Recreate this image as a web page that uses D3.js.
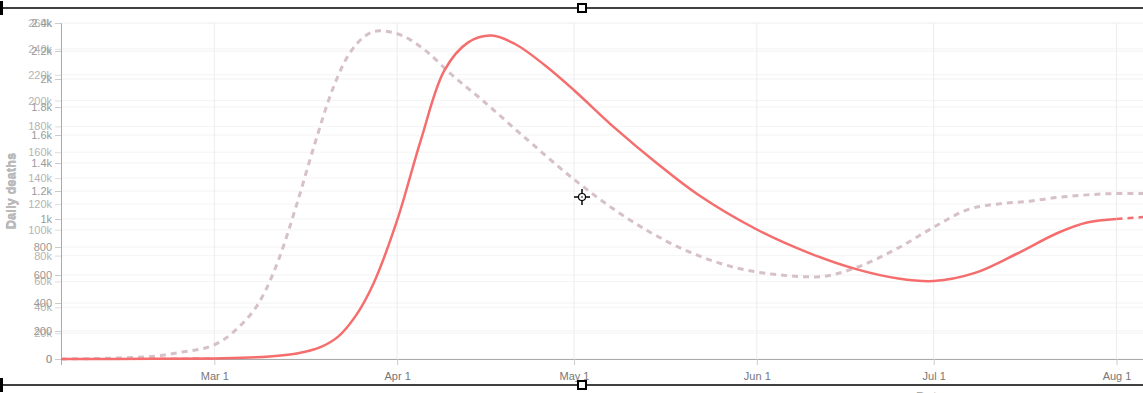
<!DOCTYPE html>
<html>
<head>
<meta charset="utf-8">
<script src="https://cdn.jsdelivr.net/npm/d3@7"></script>
<style>
  html, body { margin: 0; padding: 0; background: #fff; overflow: hidden; }
  svg { display: block; font-family: "Liberation Sans", Arial, sans-serif; }
</style>
</head>
<body>
<svg id="chart" width="1143" height="393"></svg>
<script>
// daily deaths (left axis), observed
const deathDates = ["2020-02-04","2020-02-20","2020-03-01","2020-03-08","2020-03-15","2020-03-19","2020-03-22","2020-03-25","2020-03-28","2020-04-01","2020-04-05","2020-04-09","2020-04-13","2020-04-17","2020-04-21","2020-04-26","2020-05-01","2020-05-08","2020-05-15","2020-05-22","2020-06-01","2020-06-10","2020-06-18","2020-06-25","2020-07-01","2020-07-08","2020-07-15","2020-07-22","2020-07-27","2020-08-01"];
const deathValues = [0,1,4,12,40,85,160,310,540,990,1560,2060,2260,2310,2250,2100,1920,1647,1400,1175,925,755,640,575,557,615,750,900,975,1000];
// projection after last date
const projDates = ["2020-08-01","2020-08-06"];
const projValues = [1000,1015];

// second series (right scale, overlaid)
const infDates = ["2020-02-04","2020-02-18","2020-02-24","2020-03-01","2020-03-05","2020-03-09","2020-03-12","2020-03-15","2020-03-18","2020-03-21","2020-03-24","2020-03-29","2020-04-02","2020-04-06","2020-04-10","2020-04-15","2020-04-22","2020-05-01","2020-05-09","2020-05-19","2020-05-29","2020-06-05","2020-06-11","2020-06-18","2020-06-25","2020-07-01","2020-07-07","2020-07-12","2020-07-17","2020-07-22","2020-07-27","2020-08-01","2020-08-06"];
const infValues = [0,1500,5000,11000,24000,47000,78000,120000,166000,208000,237000,254000,250000,238000,221000,202000,174000,139000,112000,86000,70000,65000,63500,71000,86000,102000,116000,120000,122000,125000,127000,128000,128000];

const xTicks = ["2020-03-01","2020-04-01","2020-05-01","2020-06-01","2020-07-01","2020-08-01"];

const parse = d3.timeParse("%Y-%m-%d");
const svg = d3.select("#chart");
const margin = {left: 61, top: 23, bottom: 34};
const height = 393 - margin.bottom;

const x = d3.scaleTime()
    .domain([parse("2020-02-04"), parse("2020-08-06")])
    .range([margin.left, 1146]);
const y = d3.scaleLinear().domain([0, 2400]).range([height, margin.top]);
const y2 = d3.scaleLinear().domain([0, 260000]).range([height, margin.top]);

// grid
const grid = svg.append("g");
grid.selectAll(".hg").data(y.ticks(12)).enter().append("line")
    .attr("x1", margin.left).attr("x2", 1143)
    .attr("y1", d => y(d)).attr("y2", d => y(d))
    .attr("stroke", "#f2f2f2");
grid.selectAll(".hg2").data(y2.ticks(13)).enter().append("line")
    .attr("x1", margin.left).attr("x2", 1143)
    .attr("y1", d => y2(d)).attr("y2", d => y2(d))
    .attr("stroke", "#f4f4f4");
grid.selectAll(".vg").data(xTicks.map(parse)).enter().append("line")
    .attr("x1", d => x(d)).attr("x2", d => x(d))
    .attr("y1", margin.top).attr("y2", height)
    .attr("stroke", "#ececec");

// axes
const fmt = d => d === 0 ? "0" : d3.format("~s")(d);
const ax2 = svg.append("g")
    .attr("transform", `translate(${margin.left},0)`)
    .call(d3.axisLeft(y2).ticks(13).tickFormat(fmt));
ax2.select(".domain").remove();
ax2.selectAll("line").attr("stroke", "#ddd");
ax2.selectAll("text").attr("fill", "#b4b4b4").style("font-size", "11px");

const ax1 = svg.append("g")
    .attr("transform", `translate(${margin.left},0)`)
    .call(d3.axisLeft(y).ticks(12).tickFormat(fmt));
ax1.select(".domain").attr("stroke", "#aaa");
ax1.selectAll("line").attr("stroke", "#ccc");
ax1.selectAll("text").attr("fill", "#999").style("font-size", "11px");

const axx = svg.append("g")
    .attr("transform", `translate(0,${height})`)
    .call(d3.axisBottom(x).tickValues(xTicks.map(parse)).tickFormat(d3.timeFormat("%b %-d")));
axx.select(".domain").attr("stroke", "#aaa");
axx.selectAll("line").attr("stroke", "#ccc");
axx.selectAll("text").attr("fill", "#777").style("font-size", "11px").attr("dy", "1.1em");

// axis titles
[0, 1].forEach(i => {
  svg.append("text")
    .attr("transform", `translate(${15 + i},191) rotate(-90)`)
    .attr("text-anchor", "middle")
    .attr("fill", i ? "#bbb" : "#aaa")
    .style("font-size", "13px").style("font-weight", "bold")
    .text("Daily deaths");
});
svg.append("text")
    .attr("x", 930).attr("y", 401)
    .attr("text-anchor", "middle")
    .attr("fill", "#aaa")
    .style("font-size", "13px").style("font-weight", "bold")
    .text("Date");

// lines
const line1 = d3.line().x(d => x(d[0])).y(d => y(d[1])).curve(d3.curveCatmullRom.alpha(0.5));
const line2 = d3.line().x(d => x(d[0])).y(d => y2(d[1])).curve(d3.curveMonotoneX);

svg.append("path")
    .datum(infDates.map((d, i) => [parse(d), infValues[i]]))
    .attr("d", line2)
    .attr("fill", "none").attr("stroke", "#d5c1c6")
    .attr("stroke-width", 3).attr("stroke-dasharray", "6,5");

svg.append("path")
    .datum(deathDates.map((d, i) => [parse(d), deathValues[i]]))
    .attr("d", line1)
    .attr("fill", "none").attr("stroke", "#f56d6d")
    .attr("stroke-width", 2.5);

svg.append("path")
    .datum(projDates.map((d, i) => [parse(d), projValues[i]]))
    .attr("d", line1)
    .attr("fill", "none").attr("stroke", "#f56d6d")
    .attr("stroke-width", 2.5).attr("stroke-dasharray", "6,5");

// red dashed baseline near zero (start of series)
svg.append("path")
    .datum(deathDates.slice(0, 3).map((d, i) => [parse(d), deathValues[i]]))
    .attr("d", line1)
    .attr("fill", "none").attr("stroke", "#f56d6d")
    .attr("stroke-width", 2).attr("stroke-dasharray", "6,5");

// selection overlay
const sel = svg.append("g").attr("fill", "none").attr("stroke", "#000");
[8, 385].forEach(yy => {
  sel.append("line").attr("x1", 0).attr("x2", 1143).attr("y1", yy).attr("y2", yy).attr("stroke-width", 1.5);
  sel.append("line").attr("x1", 1.5).attr("x2", 1.5).attr("y1", yy - 7).attr("y2", yy + 7).attr("stroke-width", 3);
  sel.append("rect").attr("x", 578).attr("y", yy - 4).attr("width", 8).attr("height", 8)
     .attr("fill", "#fff").attr("stroke-width", 2);
});
sel.append("circle").attr("cx", 582).attr("cy", 197).attr("r", 3.5).attr("stroke-width", 1.2);
[[574, 579], [585, 590]].forEach(([a, b]) => {
  sel.append("line").attr("x1", a).attr("x2", b).attr("y1", 197).attr("y2", 197).attr("stroke-width", 1.5);
});
[[189, 194], [200, 205]].forEach(([a, b]) => {
  sel.append("line").attr("x1", 582).attr("x2", 582).attr("y1", a).attr("y2", b).attr("stroke-width", 1.5);
});
sel.append("circle").attr("cx", 582).attr("cy", 197).attr("r", 0.8).attr("fill", "#000").attr("stroke", "none");
</script>
</body>
</html>
